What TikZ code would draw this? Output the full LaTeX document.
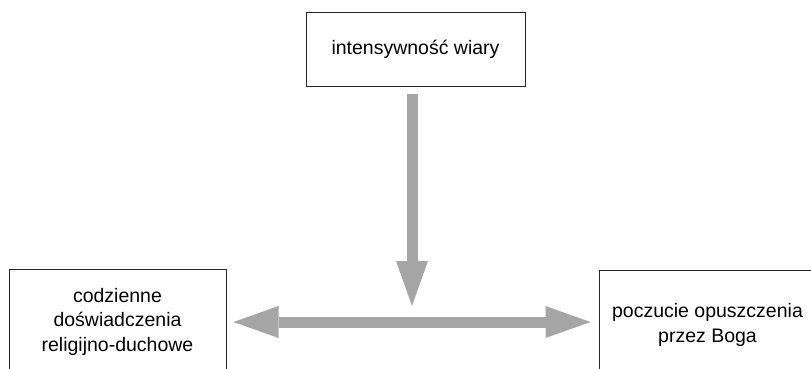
\documentclass[tikz,border=0pt]{standalone}
\usepackage{fontspec}
\setmainfont{Liberation Sans}
\usetikzlibrary{arrows.meta}
\tikzset{bigtip/.tip={Triangle[width=32pt,length=45pt,line width=0pt]}}
\begin{document}
\begin{tikzpicture}[x=1pt,y=-1pt,
  box/.style={draw=black!85, line width=1pt, align=center, inner sep=0pt,
    font=\fontsize{19.5}{24.5}\selectfont},
  fat/.style={draw=gray!70, fill=gray!70, line width=11pt, line cap=butt}]
\useasboundingbox (0,0) rectangle (811,368);
\clip (0,0) rectangle (811,368);
\node[box, minimum width=219pt, minimum height=74pt] (top) at (415.5,49) {intensywność wiary};
\node[box, minimum width=217pt, minimum height=105pt] (lb) at (117.5,321.5) {codzienne\\doświadczenia\\religijno-duchowe};
\node[box, minimum width=217pt, minimum height=110pt] (rb) at (707.5,325) {poczucie opuszczenia\\przez Boga};
\coordinate (mid) at (412,322);
\draw[fat, -{bigtip}, shorten <=7pt, shorten >=16pt] (top.south -| mid) -- (mid);
\draw[fat, {bigtip}-{bigtip}, shorten <=7pt, shorten >=8pt] (lb.east |- mid) -- (rb.west |- mid);
\end{tikzpicture}
\end{document}
